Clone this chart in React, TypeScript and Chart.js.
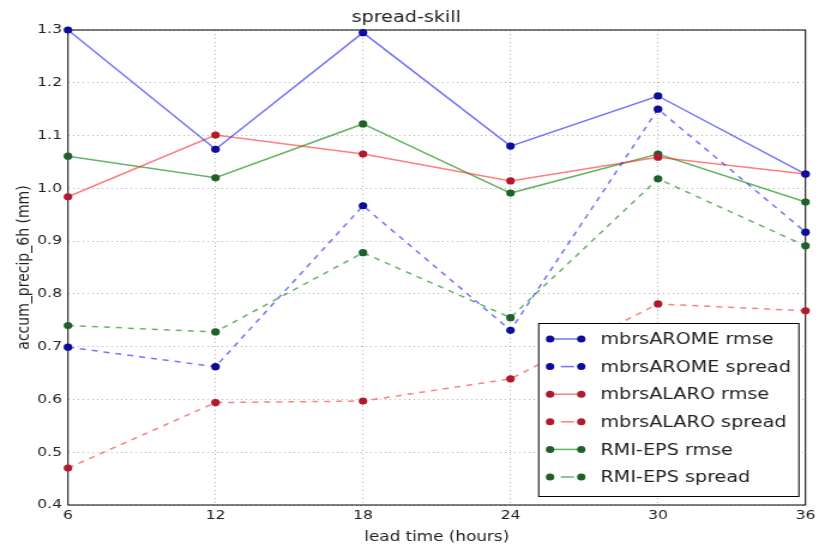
import React, { useEffect, useRef } from 'react';
import { Chart, registerables } from 'chart.js';
Chart.register(...registerables);

const leadTimes = [6, 12, 18, 24, 30, 36];
const aromeRmse = [1.3, 1.074, 1.295, 1.08, 1.175, 1.027];
const aromeSpread = [0.699, 0.662, 0.967, 0.731, 1.15, 0.917];
const alaroRmse = [0.984, 1.101, 1.065, 1.014, 1.059, 1.027];
const alaroSpread = [0.47, 0.594, 0.597, 0.639, 0.781, 0.768];
const epsRmse = [1.061, 1.02, 1.122, 0.991, 1.065, 0.974];
const epsSpread = [0.74, 0.728, 0.878, 0.755, 1.018, 0.891];
const seriesLabels = [
  'mbrsAROME rmse',
  'mbrsAROME spread',
  'mbrsALARO rmse',
  'mbrsALARO spread',
  'RMI-EPS rmse',
  'RMI-EPS spread',
];
const xTickValues = [6, 12, 18, 24, 30, 36];
const yTickValues = [0.4, 0.5, 0.6, 0.7, 0.8, 0.9, 1.0, 1.1, 1.2, 1.3];

const STRETCH = 1.2;
const W = 683;
const H = 548;
const FONT = "'DejaVu Sans', sans-serif";

const frameAndLegend = {
  id: 'frameAndLegend',
  beforeDatasetsDraw(chart: any) {
    const { ctx, chartArea: a } = chart;
    ctx.save();
    ctx.strokeStyle = '#000';
    ctx.lineWidth = 1;
    ctx.strokeRect(a.left, a.top, a.right - a.left, a.bottom - a.top);
    ctx.restore();
  },
  afterDatasetsDraw(chart: any) {
    const { ctx, chartArea: a } = chart;
    const right = a.right - 6;
    const bottom = a.bottom - 9;
    const boxW = 217;
    const boxH = 173;
    const left = right - boxW;
    const top = bottom - boxH;
    ctx.save();
    ctx.fillStyle = '#fff';
    ctx.fillRect(left, top, boxW, boxH);
    ctx.strokeStyle = '#000';
    ctx.lineWidth = 1;
    ctx.strokeRect(left + 0.5, top + 0.5, boxW, boxH);
    ctx.font = `16px ${FONT}`;
    ctx.textBaseline = 'middle';
    ctx.textAlign = 'left';
    const ds = chart.data.datasets;
    ds.forEach((d: any, i: number) => {
      const y = top + 16 + i * 27.6;
      const x0 = left + 10;
      const x1 = left + 36;
      ctx.strokeStyle = d.borderColor;
      ctx.lineWidth = 1.5;
      ctx.setLineDash(d.borderDash || []);
      ctx.beginPath();
      if (d.borderDash && d.borderDash.length) {
        ctx.setLineDash([]);
        ctx.moveTo(x0 + 9, y);
        ctx.lineTo(x1 - 6, y);
      } else {
        ctx.moveTo(x0, y);
        ctx.lineTo(x1, y);
      }
      ctx.stroke();
      ctx.setLineDash([]);
      ctx.fillStyle = d.pointBackgroundColor;
      [x0, x1].forEach((px) => {
        ctx.beginPath();
        ctx.arc(px, y, 3.5, 0, Math.PI * 2);
        ctx.fill();
      });
      ctx.fillStyle = '#222';
      ctx.fillText(d.label, left + 52, y + 1);
    });
    ctx.restore();
  },
};

export default function App() {
  const ref = useRef<HTMLCanvasElement | null>(null);
  useEffect(() => {
    if (!ref.current) return;
    const series = [aromeRmse, aromeSpread, alaroRmse, alaroSpread, epsRmse, epsSpread];
    const lineColors = [
      'rgba(40,40,255,0.65)',
      'rgba(40,40,255,0.65)',
      'rgba(255,40,40,0.6)',
      'rgba(255,40,40,0.6)',
      'rgba(20,140,20,0.65)',
      'rgba(20,140,20,0.65)',
    ];
    const markerColors = ['#0c0c9c', '#0c0c9c', '#b3192c', '#b3192c', '#1e5f2a', '#1e5f2a'];
    const datasets = series.map((vals, i) => ({
      label: seriesLabels[i],
      data: leadTimes.map((x, j) => ({ x, y: vals[j] })),
      borderColor: lineColors[i],
      backgroundColor: markerColors[i],
      pointBackgroundColor: markerColors[i],
      pointBorderColor: markerColors[i],
      pointBorderWidth: 0,
      pointRadius: 3.6,
      borderWidth: 1.5,
      borderDash: i % 2 === 1 ? [5, 5] : [],
      tension: 0,
      clip: false as any,
    }));
    const chart = new Chart(ref.current, {
      type: 'line',
      data: { datasets },
      plugins: [frameAndLegend],
      options: {
        animation: false,
        responsive: false,
        devicePixelRatio: 1,
        layout: { padding: { left: 0, right: 5.5, top: 0, bottom: 0 } },
        plugins: {
          legend: { display: false },
          tooltip: { enabled: false },
          title: {
            display: true,
            text: 'spread-skill',
            color: '#222',
            font: { family: FONT, size: 16, weight: 'normal' as any },
            padding: { top: 8, bottom: 2.8 },
          },
        },
        scales: {
          x: {
            type: 'linear',
            min: 6,
            max: 36,
            afterBuildTicks: (s: any) => {
              s.ticks = xTickValues.map((v) => ({ value: v }));
            },
            afterFit: (s: any) => {
              s.height = 43;
            },
            ticks: {
              color: '#222',
              font: { family: FONT, size: 13 },
              padding: 3,
              maxRotation: 0,
              callback: (v: any) => String(v),
            },
            grid: {
              color: 'rgba(0,0,0,0.3)',
              lineWidth: 1,
              drawTicks: false,
            },
            border: { display: false, dash: [1, 3] },
            title: {
              display: true,
              text: 'lead time (hours)',
              color: '#222',
              font: { family: FONT, size: 14 },
              padding: { top: 0, bottom: 2 },
            },
          },
          y: {
            type: 'linear',
            min: 0.4,
            max: 1.3,
            afterBuildTicks: (s: any) => {
              s.ticks = yTickValues.map((v) => ({ value: v }));
            },
            afterFit: (s: any) => {
              s.width = 56.7;
            },
            ticks: {
              color: '#222',
              font: { family: FONT, size: 13 },
              padding: 5,
              callback: (v: any) => Number(v).toFixed(1),
            },
            grid: {
              color: 'rgba(0,0,0,0.3)',
              lineWidth: 1,
              drawTicks: false,
            },
            border: { display: false, dash: [1, 3] },
            title: {
              display: true,
              text: 'accum_precip_6h (mm)',
              color: '#222',
              font: { family: FONT, size: 14 },
              padding: { top: 11.6, bottom: 0 },
            },
          },
        },
      },
    });
    return () => chart.destroy();
  }, []);
  return (
    <div style={{ position: 'fixed', left: 0, top: 0, width: 819, height: 548, overflow: 'hidden', background: '#fff' }}>
      <canvas
        ref={ref}
        width={W}
        height={H}
        style={{ display: 'block', transform: `scaleX(${819 / W})`, transformOrigin: '0 0' }}
      />
    </div>
  );
}
